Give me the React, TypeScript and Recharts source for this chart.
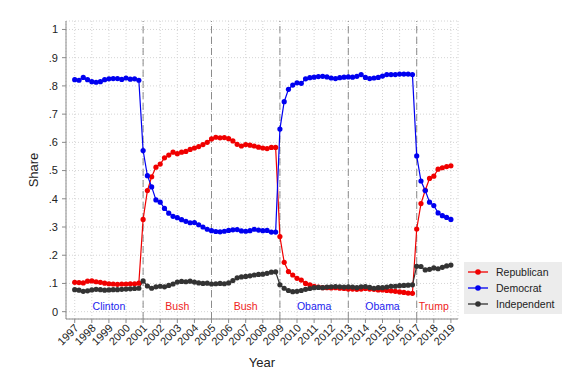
import React from 'react';
import {
  LineChart, Line, XAxis, YAxis, CartesianGrid, ReferenceLine, ReferenceDot, Legend,
} from 'recharts';

const quarters = [
  1997, 1997.25, 1997.5, 1997.75, 1998, 1998.25, 1998.5, 1998.75,
  1999, 1999.25, 1999.5, 1999.75, 2000, 2000.25, 2000.5, 2000.75,
  2001, 2001.25, 2001.5, 2001.75, 2002, 2002.25, 2002.5, 2002.75,
  2003, 2003.25, 2003.5, 2003.75, 2004, 2004.25, 2004.5, 2004.75,
  2005, 2005.25, 2005.5, 2005.75, 2006, 2006.25, 2006.5, 2006.75,
  2007, 2007.25, 2007.5, 2007.75, 2008, 2008.25, 2008.5, 2008.75,
  2009, 2009.25, 2009.5, 2009.75, 2010, 2010.25, 2010.5, 2010.75,
  2011, 2011.25, 2011.5, 2011.75, 2012, 2012.25, 2012.5, 2012.75,
  2013, 2013.25, 2013.5, 2013.75, 2014, 2014.25, 2014.5, 2014.75,
  2015, 2015.25, 2015.5, 2015.75, 2016, 2016.25, 2016.5, 2016.75,
  2017, 2017.25, 2017.5, 2017.75, 2018, 2018.25, 2018.5, 2018.75,
  2019,
];

const republican = [
  0.104, 0.103, 0.102, 0.108, 0.109, 0.106, 0.104, 0.101,
  0.099, 0.098, 0.097, 0.098, 0.098, 0.099, 0.099, 0.101,
  0.327, 0.429, 0.478, 0.512, 0.523, 0.545, 0.555, 0.565,
  0.560, 0.565, 0.568, 0.575, 0.580, 0.585, 0.592, 0.600,
  0.612, 0.618, 0.616, 0.617, 0.613, 0.605, 0.593, 0.587,
  0.592, 0.590, 0.587, 0.583, 0.580, 0.578, 0.582, 0.582,
  0.266, 0.175, 0.142, 0.130, 0.118, 0.112, 0.100, 0.095,
  0.090, 0.087, 0.085, 0.085, 0.084, 0.085, 0.083, 0.082,
  0.080, 0.080, 0.079, 0.080, 0.082, 0.080, 0.079, 0.077,
  0.077, 0.075, 0.074, 0.072, 0.070, 0.068, 0.066, 0.065,
  0.293, 0.383, 0.430, 0.472, 0.480, 0.505, 0.510, 0.514,
  0.517,
];

const democrat = [
  0.822, 0.820, 0.830, 0.822, 0.815, 0.813, 0.815, 0.822,
  0.825, 0.826, 0.826, 0.823, 0.828, 0.824, 0.825, 0.820,
  0.571, 0.482, 0.442, 0.396, 0.388, 0.366, 0.349, 0.338,
  0.333, 0.326, 0.320, 0.315, 0.316, 0.308, 0.300, 0.292,
  0.287, 0.284, 0.283, 0.285, 0.288, 0.290, 0.291, 0.286,
  0.285, 0.287, 0.292, 0.289, 0.287, 0.288, 0.282, 0.282,
  0.647, 0.744, 0.788, 0.803, 0.811, 0.809, 0.825, 0.829,
  0.831, 0.833, 0.834, 0.832, 0.828, 0.826, 0.829, 0.831,
  0.832, 0.831, 0.834, 0.840, 0.830, 0.826, 0.828, 0.830,
  0.835, 0.840, 0.840, 0.840, 0.842, 0.842, 0.842, 0.840,
  0.552, 0.463, 0.429, 0.388, 0.376, 0.350, 0.340, 0.334,
  0.327,
];

const independent = [
  0.078, 0.076, 0.072, 0.074, 0.077, 0.079, 0.078, 0.076,
  0.077, 0.078, 0.078, 0.079, 0.080, 0.081, 0.082, 0.083,
  0.109, 0.091, 0.083, 0.088, 0.090, 0.088, 0.093, 0.098,
  0.105, 0.107, 0.106, 0.108, 0.105, 0.102, 0.100, 0.101,
  0.098, 0.099, 0.100, 0.099, 0.102, 0.110, 0.120, 0.123,
  0.125, 0.127, 0.130, 0.132, 0.133, 0.136, 0.140, 0.141,
  0.095, 0.083, 0.075, 0.071, 0.072, 0.075, 0.079, 0.082,
  0.085, 0.086, 0.085, 0.087, 0.088, 0.089, 0.088, 0.087,
  0.088, 0.087, 0.085, 0.088, 0.089, 0.086, 0.083, 0.085,
  0.085, 0.087, 0.090, 0.090, 0.092, 0.093, 0.094, 0.095,
  0.161, 0.160, 0.148, 0.150, 0.155, 0.152, 0.157, 0.162,
  0.165,
];

const seriesOrder = ['Republican', 'Democrat', 'Independent'];
const yearTicks = [
  1997, 1998, 1999, 2000, 2001, 2002, 2003, 2004, 2005, 2006, 2007, 2008,
  2009, 2010, 2011, 2012, 2013, 2014, 2015, 2016, 2017, 2018, 2019,
];
const shareTicks = [0, 0.1, 0.2, 0.3, 0.4, 0.5, 0.6, 0.7, 0.8, 0.9, 1];
const termStarts = [2001, 2005, 2009, 2013, 2017];
const presidentNames = ['Clinton', 'Bush', 'Bush', 'Obama', 'Obama', 'Trump'];
const presidentYears = [1999, 2003, 2007, 2011, 2015, 2018];
const presidentParty = ['D', 'R', 'R', 'D', 'D', 'R'];

const RED = '#f00000';
const BLUE = '#0000f0';
const DARK = '#333333';
const FONT = '"Liberation Sans", Arial, sans-serif';

const data = quarters.map((q, i) => ({
  q,
  Republican: republican[i],
  Democrat: democrat[i],
  Independent: independent[i],
}));

const fmtShare = (v: number) => {
  const k = Math.round(v * 10);
  if (k === 0) return '0';
  if (k === 10) return '1';
  return '.' + k;
};

const XTick = (props: any) => {
  const { x, y, payload } = props;
  return (
    <text
      x={x + 2}
      y={y}
      transform={`rotate(-45, ${x + 2}, ${y})`}
      textAnchor="end"
      dy="0.35em"
      fontSize={11}
      fill="#222"
      fontFamily={FONT}
    >
      {payload.value}
    </text>
  );
};

const LegendBox = (props: any) => {
  const payload = [...(props.payload || [])].sort(
    (a: any, b: any) => seriesOrder.indexOf(a.value) - seriesOrder.indexOf(b.value),
  );
  return (
    <div
      style={{
        background: '#ececec',
        width: 98,
        height: 52,
        boxSizing: 'border-box',
        paddingTop: 2,
        fontFamily: FONT,
        fontSize: 10.5,
        color: '#222',
      }}
    >
      {payload.map((entry: any) => (
        <div key={entry.value} style={{ display: 'flex', alignItems: 'center', height: 16 }}>
          <svg width={32} height={16} style={{ flex: 'none' }}>
            <line x1={4} y1={8} x2={24} y2={8} stroke={entry.color} strokeWidth={1.3} />
            <circle cx={14} cy={8} r={2.8} fill={entry.color} />
          </svg>
          <span>{entry.value}</span>
        </div>
      ))}
    </div>
  );
};

export default function App() {
  return (
    <div style={{ position: 'absolute', left: 0, top: 0, width: 572, height: 373, background: '#fff' }}>
      <LineChart
        width={572}
        height={373}
        data={data}
        margin={{ top: 21, right: 114, left: 0, bottom: 0 }}
        style={{ fontFamily: FONT }}
      >
        <CartesianGrid stroke="#d4d4d4" strokeDasharray="1 2" strokeWidth={1} />
        <XAxis
          dataKey="q"
          type="number"
          domain={[1996.49, 2019.415]}
          ticks={yearTicks}
          interval={0}
          allowDataOverflow
          height={54}
          tickSize={4}
          tickMargin={3}
          tick={<XTick />}
          stroke="#8a8a8a"
          tickLine={{ stroke: '#8a8a8a' }}
          label={{ value: 'Year', position: 'insideBottom', offset: 6, fontSize: 13, fill: '#222', fontFamily: FONT }}
        />
        <YAxis
          type="number"
          domain={[-0.026, 1.03]}
          ticks={shareTicks}
          interval={0}
          allowDataOverflow
          width={66}
          tickSize={4}
          tickMargin={4}
          tickFormatter={fmtShare}
          tick={{ fontSize: 11, fill: '#222', fontFamily: FONT }}
          stroke="#8a8a8a"
          label={{ value: 'Share', angle: -90, position: 'center', fontSize: 13, fill: '#222', fontFamily: FONT }}
        />
        {termStarts.map((t) => (
          <ReferenceLine key={t} x={t} stroke="#8c8c8c" strokeDasharray="7 4" strokeWidth={1} />
        ))}
        {presidentNames.map((n, i) => (
          <ReferenceDot
            key={n + i}
            x={presidentYears[i]}
            y={0.02}
            r={0}
            fill="none"
            stroke="none"
            label={{
              value: n,
              position: 'center',
              fontSize: 10.5,
              fill: presidentParty[i] === 'R' ? '#ee2222' : '#2222ee',
              fontFamily: FONT,
            }}
          />
        ))}
        <Line
          type="linear"
          dataKey="Republican"
          stroke={RED}
          strokeWidth={1.2}
          dot={{ r: 2.6, fill: RED, stroke: RED, strokeWidth: 0 }}
          isAnimationActive={false}
        />
        <Line
          type="linear"
          dataKey="Democrat"
          stroke={BLUE}
          strokeWidth={1.2}
          dot={{ r: 2.6, fill: BLUE, stroke: BLUE, strokeWidth: 0 }}
          isAnimationActive={false}
        />
        <Line
          type="linear"
          dataKey="Independent"
          stroke={DARK}
          strokeWidth={1.2}
          dot={{ r: 2.6, fill: DARK, stroke: DARK, strokeWidth: 0 }}
          isAnimationActive={false}
        />
        <Legend
          layout="vertical"
          align="center"
          verticalAlign="middle"
          width={98}
          height={52}
          content={<LegendBox />}
          wrapperStyle={{ left: 464, top: 262, width: 98, height: 52 }}
        />
      </LineChart>
    </div>
  );
}
